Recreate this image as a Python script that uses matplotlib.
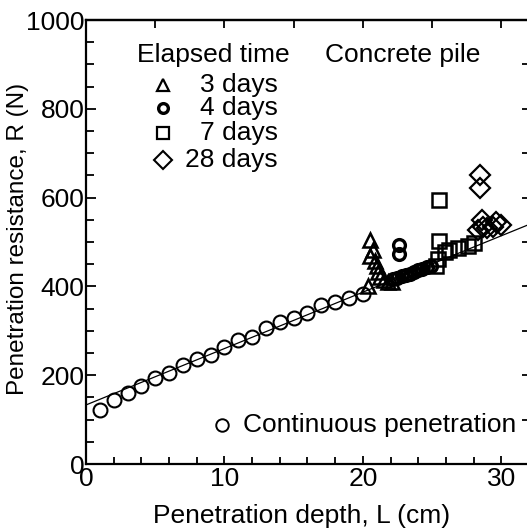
import matplotlib
matplotlib.use("Agg")
import matplotlib.pyplot as plt
import numpy as np
from matplotlib.ticker import MultipleLocator

plt.rcParams['font.family'] = ['Liberation Sans', 'DejaVu Sans']

# ---- data ----
cont_L = [1, 2, 3, 4, 5, 6, 7, 8, 9, 10, 11, 12, 13, 14, 15, 16, 17, 18, 19, 20]
cont_R = [121, 144, 160, 176, 194, 206, 223, 236, 245, 263, 279, 287, 306, 320, 329, 341, 358, 365, 375, 383]

d3_L = [20.4, 20.5, 20.75, 20.5, 20.9, 21.0, 21.1, 21.25, 21.5, 21.8, 22.1]
d3_R = [400, 505, 483, 468, 458, 446, 433, 422, 414, 410, 411]

d4_L = [22.6, 22.6, 22.2, 22.5, 22.8, 23.1, 23.4, 23.7, 24.0, 24.3, 24.6, 24.9]
d4_R = [493, 472, 416, 420, 423, 426, 429, 433, 436, 440, 443, 447]

d7_L = [25.5, 25.5, 25.9, 25.4, 25.3, 26.2, 26.9, 27.6, 28.0]
d7_R = [595, 503, 478, 462, 446, 482, 487, 492, 497]

d28_L = [28.45, 28.45, 28.6, 28.3, 28.7, 29.0, 29.4, 29.65, 30.0]
d28_R = [651, 621, 550, 527, 534, 531, 534, 546, 538]

fit_intercept = 133
fit_slope = 12.7

legend_labels = ['3 days', '4 days', '7 days', '28 days']

# ---- figure ----
W, H = 527, 530
fig = plt.figure(figsize=(W / 100, H / 100), dpi=100)
ax = fig.add_axes([86 / W, 66 / H, 443 / W, 444 / H])
ax.set_xlim(0, 32)
ax.set_ylim(0, 1000)

fs = 19
lw_mark = 1.5

xl = np.array(ax.get_xlim())
ax.plot(xl, fit_intercept + fit_slope * xl, color='black', lw=0.9, zorder=2)

ax.plot(cont_L, cont_R, 'o', ms=10, mfc='none', mec='black', mew=lw_mark, zorder=3)
ax.plot(d3_L, d3_R, '^', ms=10, mfc='none', mec='black', mew=1.8, zorder=3)
ax.plot(d4_L, d4_R, 'o', ms=8.5, mfc='none', mec='black', mew=2.4, zorder=3)
ax.plot(d7_L, d7_R, 's', ms=10, mfc='none', mec='black', mew=1.8, zorder=3)
ax.plot(d28_L, d28_R, 'D', ms=10, mfc='none', mec='black', mew=1.6, zorder=3)

# in-plot legend
ax.text(3.68, 921, 'Elapsed time', fontsize=fs, va='center', ha='left')
ax.text(17.26, 921, 'Concrete pile', fontsize=fs, va='center', ha='left')
leg_y = [854, 801, 745, 685]
leg_m = [('^', 8, 1.6), ('o', 7, 2.4), ('s', 8, 1.6), ('D', 9, 1.5)]
for yv, (m, s, w), lab in zip(leg_y, leg_m, legend_labels):
    ax.plot([5.58], [yv], m, ms=s, mfc='none', mec='black', mew=w, clip_on=False)
    ax.text(13.85, yv, lab, fontsize=fs, va='center', ha='right')

ax.plot([9.8], [88], 'o', ms=9, mfc='none', mec='black', mew=1.4)
ax.text(11.33, 88, 'Continuous penetration', fontsize=fs, va='center', ha='left')

# ticks
ax.xaxis.set_major_locator(MultipleLocator(10))
ax.xaxis.set_minor_locator(MultipleLocator(2))
ax.yaxis.set_major_locator(MultipleLocator(200))
ax.yaxis.set_minor_locator(MultipleLocator(50))
ax.tick_params(which='both', direction='in', top=False, right=False,
               labelsize=fs, width=1.3)
ax.tick_params(axis='x', which='major', length=6, pad=2)
ax.tick_params(axis='x', which='minor', length=5)
ax.tick_params(axis='y', which='major', length=7, pad=1)
ax.tick_params(axis='y', which='minor', length=6)

sec_x = ax.secondary_xaxis('top')
sec_x.xaxis.set_major_locator(MultipleLocator(5))
sec_x.tick_params(direction='in', length=6, width=1.3, labeltop=False)
sec_y = ax.secondary_yaxis('right')
sec_y.yaxis.set_major_locator(MultipleLocator(100))
sec_y.tick_params(direction='in', length=5, width=1.3, labelright=False)

for sp in ax.spines.values():
    sp.set_linewidth(1.6)
for sp in list(sec_x.spines.values()) + list(sec_y.spines.values()):
    sp.set_linewidth(1.6)

ax.set_xlabel('Penetration depth, L (cm)', fontsize=fs)
ax.set_ylabel('Penetration resistance, R (N)', fontsize=17.5)
ax.xaxis.set_label_coords((301.5 - 86) / 443, -(516 - 464) / 444)
ax.xaxis.label.set_va('center')
ax.yaxis.set_label_coords(-(86 - 18) / 443, (464 - 239) / 444)
ax.yaxis.label.set_va('center')

fig.savefig('out.png', dpi=100)
